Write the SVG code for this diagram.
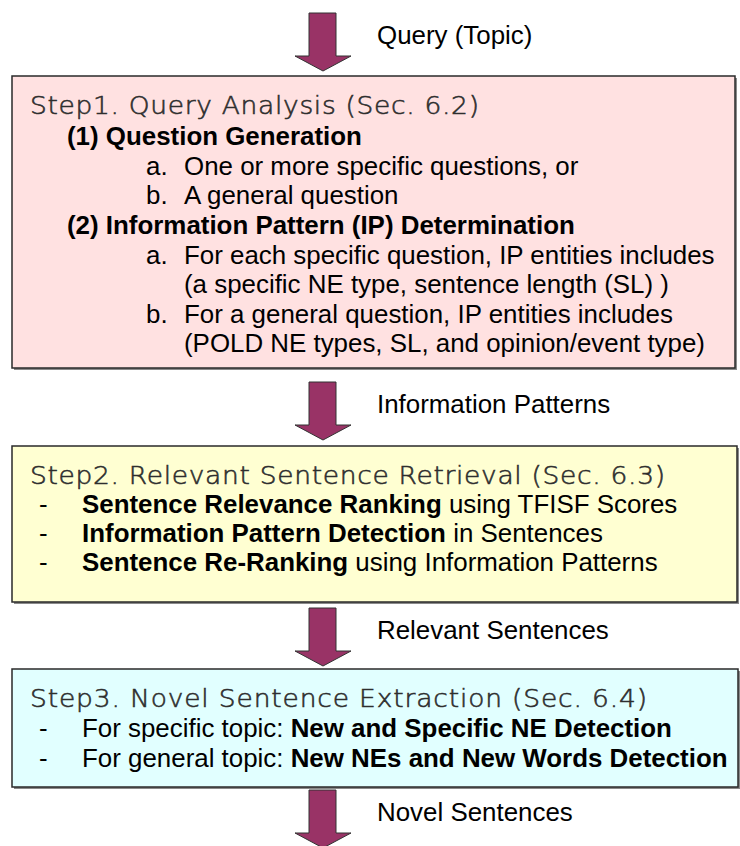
<svg xmlns="http://www.w3.org/2000/svg" width="740" height="846" viewBox="0 0 740 846">
<style>
.box{stroke:#2a2a2a;stroke-width:1.5}
.shadow{fill:#8a8a8a}
.title{font-family:"DejaVu Sans",Verdana,sans-serif;font-size:24.5px;font-weight:200;fill:#2e2e2e;stroke:#2e2e2e;stroke-width:0.55}
.t{font-family:"Liberation Sans",Arial,sans-serif;font-size:25.9px;fill:#000}
.b{font-weight:bold}
.arrow{fill:#993366;stroke:#333;stroke-width:1}
</style>
<defs>
<path id="arr" d="M-14,0 H13 V43 H28 L0,58 L-28,43 H-14 Z"/>
</defs>
<rect width="740" height="846" fill="#fff"/>
<g id="connectors">
<use href="#arr" class="arrow" x="323" y="13"/>
<text class="t" x="377" y="44">Query (Topic)</text>
<use href="#arr" class="arrow" x="323" y="382"/>
<text class="t" x="377" y="413">Information Patterns</text>
<use href="#arr" class="arrow" x="323" y="608"/>
<text class="t" x="377" y="639">Relevant Sentences</text>
<use href="#arr" class="arrow" x="323" y="790"/>
<text class="t" x="377" y="821">Novel Sentences</text>
</g>
<g id="step1">
<rect class="shadow" x="14" y="78" width="723" height="292"/>
<rect class="box" x="12" y="76" width="723" height="292" fill="#FFE1E1"/>
<text class="title" transform="scale(1.08 1)" x="27.8" y="114" textLength="415.7" lengthAdjust="spacing">Step1. Query Analysis (Sec. 6.2)</text>
<text class="t b" x="67" y="145">(1) Question Generation</text>
<text class="t" x="146" y="175">a.</text><text class="t" x="184" y="175">One or more specific questions, or</text>
<text class="t" x="146" y="204">b.</text><text class="t" x="184" y="204">A general question</text>
<text class="t b" x="67" y="234">(2) Information Pattern (IP) Determination</text>
<text class="t" x="146" y="264">a.</text><text class="t" x="184" y="264">For each specific question, IP entities includes</text>
<text class="t" x="184" y="293">(a specific NE type, sentence length (SL) )</text>
<text class="t" x="146" y="323">b.</text><text class="t" x="184" y="323">For a general question, IP entities includes</text>
<text class="t" x="184" y="352">(POLD NE types, SL, and opinion/event type)</text>
</g>
<g id="step2">
<rect class="shadow" x="14" y="448" width="725" height="156"/>
<rect class="box" x="12" y="446" width="725" height="156" fill="#FFFFD2"/>
<text class="title" transform="scale(1.08 1)" x="27.8" y="484" textLength="588" lengthAdjust="spacing">Step2. Relevant Sentence Retrieval (Sec. 6.3)</text>
<text class="t" x="39" y="513">-</text><text class="t" x="82" y="513"><tspan class="b">Sentence Relevance Ranking</tspan> using TFISF Scores</text>
<text class="t" x="39" y="542">-</text><text class="t" x="82" y="542"><tspan class="b">Information Pattern Detection</tspan> in Sentences</text>
<text class="t" x="39" y="571">-</text><text class="t" x="82" y="571"><tspan class="b">Sentence Re-Ranking</tspan> using Information Patterns</text>
</g>
<g id="step3">
<rect class="shadow" x="14" y="671" width="726" height="118"/>
<rect class="box" x="12" y="669" width="726" height="118" fill="#E1FFFF"/>
<text class="title" transform="scale(1.08 1)" x="27.8" y="707" textLength="571.3" lengthAdjust="spacing">Step3. Novel Sentence Extraction (Sec. 6.4)</text>
<text class="t" x="39" y="737">-</text><text class="t" x="82" y="737">For specific topic: <tspan class="b">New and Specific NE Detection</tspan></text>
<text class="t" x="39" y="767">-</text><text class="t" x="82" y="767">For general topic: <tspan class="b">New NEs and New Words Detection</tspan></text>
</g>
</svg>
